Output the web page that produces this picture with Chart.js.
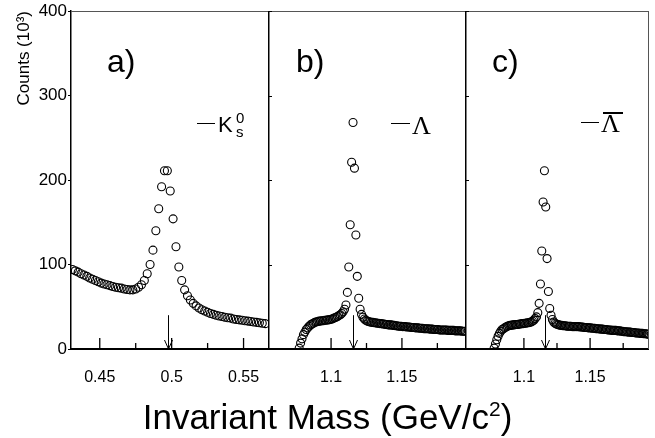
<!DOCTYPE html>
<html>
<head>
<meta charset="utf-8" />
<title>Invariant Mass - K0s, Lambda, anti-Lambda</title>
<script src="https://cdn.jsdelivr.net/npm/chart.js"></script>
<style>
    body { margin: 0; background: #fff; }
    #fig { position: relative; width: 655px; height: 438px; overflow: hidden;
           font-family: "Liberation Sans", Arial, sans-serif; color: #000; }
    #fig canvas { position: absolute; top: 0; }
    .lbl { position: absolute; white-space: nowrap; }
    .dash { position: absolute; height: 1px; background: #000; }
</style>
</head>
<body>
<div id="fig">
    <canvas id="panelA" width="268" height="438" style="left:0"></canvas>
    <canvas id="panelB" width="197" height="438" style="left:268px"></canvas>
    <canvas id="panelC" width="184" height="438" style="left:465px"></canvas>

    <div class="lbl" style="left:107px;top:45px;font-size:32px;line-height:32px">a)</div>
    <div class="lbl" style="left:296px;top:45px;font-size:32px;line-height:32px">b)</div>
    <div class="lbl" style="left:492px;top:45px;font-size:32px;line-height:32px">c)</div>

    <div class="dash" style="left:197px;top:123px;width:18px"></div>
    <div class="lbl" style="left:218px;top:114px;font-size:22px;line-height:22px">K</div>
    <div class="lbl" style="left:236px;top:110px;font-size:15px;line-height:15px">0</div>
    <div class="lbl" style="left:236px;top:124px;font-size:15px;line-height:15px">s</div>

    <div class="dash" style="left:391px;top:123px;width:19px"></div>
    <div class="lbl" style="left:412px;top:113px;font-family:'Liberation Serif',serif;font-size:26px;line-height:26px">Λ</div>

    <div class="dash" style="left:581px;top:122px;width:18px"></div>
    <div class="dash" style="left:603px;top:112px;width:20px;height:2px"></div>
    <div class="lbl" style="left:601px;top:111px;font-family:'Liberation Serif',serif;font-size:26px;line-height:26px">Λ</div>

    <div class="lbl" style="left:0;width:655px;text-align:center;top:399px;font-size:35px;line-height:35px">Invariant Mass (GeV/c<span style="font-size:21px;position:relative;top:-13px">2</span>)</div>
</div>

<script>
    // bins (GeV/c^2)
    const kshortStart = 0.431;
    const kshortBin = 0.002;
    const lambdaStart = 1.0775;
    const lambdaBin = 0.001;

    // counts in units of 10^3
    const kshortCounts = [
        94, 92.5, 91, 89, 87.5, 86, 84, 82.5, 81, 79.5,
        78, 77, 76, 75, 74, 73, 72.5, 72, 71, 70.5,
        70, 70, 71, 73, 76, 81, 89, 100, 117, 140,
        166, 192, 211, 211, 187, 154, 121, 97, 81, 70,
        63, 58, 54, 51, 48.5, 46.5, 45, 43.5, 42, 41,
        40, 39, 38.5, 37.5, 37, 36.5, 35.5, 35, 34.5, 34,
        33.5, 33, 32.5, 32, 31.5, 31, 30.5, 30
    ];
    const lambdaCounts = [
        1, 7, 12, 17, 20, 23, 25, 27, 28.5, 29.5,
        30.5, 31.5, 32, 32.5, 33, 33, 33.5, 33.5, 34, 34,
        34.5, 34.5, 35, 35.5, 36, 37, 37.5, 38.5, 39.5, 40.5,
        42, 44, 47, 52, 67, 97, 147, 221, 268, 214,
        135, 86, 60, 47, 41, 37.5, 35.5, 34, 33, 32.5,
        32, 31.5, 31.5, 31, 31, 30.5, 30.5, 30, 30, 29.5,
        29.5, 29, 29, 28.5, 28.5, 28.5, 28, 28, 27.5, 27.5,
        27, 27, 27, 26.5, 26.5, 26.5, 26, 26, 26, 25.5,
        25.5, 25.5, 25, 25, 25, 24.5, 24.5, 24.5, 24, 24,
        24, 24, 23.5, 23.5, 23.5, 23, 23, 23, 23, 22.5,
        22.5, 22.5, 22.5, 22.5, 22.5, 22, 22, 22, 22, 22,
        21.5, 21.5, 21.5, 21.5, 21.5, 21, 21, 21
    ];
    const antiLambdaCounts = [
        1, 6, 11, 15, 18.5, 21, 23, 24, 25, 26,
        27, 27.5, 28, 28, 28.5, 28.5, 29, 29, 29, 29.5,
        29.5, 30, 30, 30.5, 30.5, 31, 31, 31.5, 32, 33,
        34, 36, 38, 43, 54, 77, 116, 174, 211, 168,
        107, 68, 48, 40, 35, 32, 30.5, 29.5, 29, 28.5,
        28, 28, 27.5, 27.5, 27.5, 27, 27, 27, 27, 26.5,
        26.5, 26.5, 26.5, 26.5, 26.5, 26, 26, 26, 25.5, 25.5,
        25.5, 25, 25, 25, 24.5, 24.5, 24.5, 24, 24, 24,
        23.5, 23.5, 23.5, 23, 23, 23, 22.5, 22.5, 22.5, 22,
        22, 22, 22, 21.5, 21.5, 21.5, 21, 21, 20.5, 20.5,
        20.5, 20, 20, 20, 19.5, 19.5, 19.5, 19, 19, 19,
        18.5, 18.5, 18.5, 18, 18, 18, 17.5, 17.5
    ];

    // axes
    const countTicks = [0, 100, 200, 300, 400];
    const kshortTicks = [0.45, 0.5, 0.55];
    const kshortTickLabels = ['0.45', '0.5', '0.55'];
    const kshortMinor = [0.475, 0.525];
    const lambdaTicks = [1.1, 1.15];
    const lambdaTickLabels = ['1.1', '1.15'];
    const lambdaMinor = [1.125, 1.175];

    // nominal masses marked with arrows
    const kshortMass = 0.4976;
    const lambdaMass = 1.1157;
    const arrowTop = 40;

    Chart.defaults.font.family = '"Liberation Sans", Arial, sans-serif';
    Chart.defaults.color = '#000';

    function toPoints(start, bin, counts) {
        return counts.map((c, i) => ({ x: start + i * bin, y: c }));
    }

    // frame, inward x ticks and mass arrow
    const framePlugin = {
        id: 'frame',
        afterDatasetsDraw(chart, args, opts) {
            const { ctx, chartArea: a, scales: { x, y } } = chart;
            ctx.save();
            ctx.lineWidth = 1;
            ctx.strokeStyle = '#555';
            ctx.beginPath();
            ctx.moveTo(a.left, a.top + 0.5);
            ctx.lineTo(a.right, a.top + 0.5);
            if (opts.rightEdge) {
                ctx.moveTo(a.right - 0.5, a.top);
                ctx.lineTo(a.right - 0.5, a.bottom);
            }
            ctx.stroke();

            ctx.strokeStyle = '#000';
            if (opts.leftEdge) {
                ctx.lineWidth = 1.5;
                ctx.beginPath();
                ctx.moveTo(a.left + 0.75, a.top);
                ctx.lineTo(a.left + 0.75, a.bottom);
                ctx.stroke();
                ctx.lineWidth = 1;
                ctx.beginPath();
                countTicks.forEach(v => {
                    const py = Math.round(y.getPixelForValue(v)) + 0.5;
                    ctx.moveTo(a.left, py);
                    ctx.lineTo(a.left + 4, py);
                });
                ctx.stroke();
            }

            ctx.lineWidth = 1.3;
            ctx.beginPath();
            opts.majors.forEach(v => {
                const px = x.getPixelForValue(v);
                ctx.moveTo(px, a.bottom);
                ctx.lineTo(px, a.bottom - 11);
            });
            opts.minors.forEach(v => {
                const px = x.getPixelForValue(v);
                ctx.moveTo(px, a.bottom);
                ctx.lineTo(px, a.bottom - 6);
            });
            ctx.stroke();

            const ax = Math.round(x.getPixelForValue(opts.arrow)) + 0.5;
            const ay = y.getPixelForValue(arrowTop);
            ctx.lineWidth = 1;
            ctx.beginPath();
            ctx.moveTo(ax, ay);
            ctx.lineTo(ax, a.bottom);
            ctx.moveTo(ax - 4, a.bottom - 9);
            ctx.lineTo(ax, a.bottom);
            ctx.lineTo(ax + 4, a.bottom - 9);
            ctx.stroke();
            ctx.restore();
        }
    };

    function makePanel(id, points, xMin, xMax, ticks, tickLabels, minors, arrow, showY, rightEdge) {
        return new Chart(document.getElementById(id), {
            type: 'scatter',
            data: {
                datasets: [{
                    data: points,
                    pointStyle: 'circle',
                    pointRadius: 4,
                    pointBorderWidth: 1.1,
                    pointBorderColor: '#000',
                    pointBackgroundColor: 'rgba(0,0,0,0)',
                    showLine: false
                }]
            },
            options: {
                responsive: false,
                animation: false,
                devicePixelRatio: 1,
                layout: { autoPadding: false, padding: { top: 11, right: 0, bottom: 0, left: 0 } },
                plugins: {
                    legend: { display: false },
                    tooltip: { enabled: false },
                    frame: { majors: ticks, minors: minors, arrow: arrow, leftEdge: !showY, rightEdge: rightEdge }
                },
                scales: {
                    x: {
                        type: 'linear',
                        min: xMin,
                        max: xMax,
                        afterBuildTicks: s => { s.ticks = ticks.map(v => ({ value: v })); },
                        afterFit: s => { s.height = 89; s.paddingLeft = 0; s.paddingRight = 0; },
                        grid: { display: false, drawTicks: false },
                        border: { display: true, color: '#000', width: 2 },
                        ticks: {
                            autoSkip: false,
                            maxRotation: 0,
                            padding: 19,
                            font: { size: 16 },
                            callback: (v, i) => tickLabels[i]
                        }
                    },
                    y: {
                        display: showY,
                        min: 0,
                        max: 400,
                        afterBuildTicks: s => { s.ticks = countTicks.map(v => ({ value: v })); },
                        afterFit: s => { s.width = showY ? 71 : 0; s.paddingTop = 0; s.paddingBottom = 0; },
                        grid: { drawOnChartArea: false, drawTicks: true, tickLength: 3, color: '#000' },
                        border: { display: true, color: '#000', width: 1.5 },
                        ticks: { padding: 1, font: { size: 17 } },
                        title: {
                            display: true,
                            text: 'Counts (10³)',
                            align: 'end',
                            font: { size: 17 },
                            padding: { top: 14, bottom: 0 }
                        }
                    }
                }
            },
            plugins: [framePlugin]
        });
    }

    makePanel('panelA', toPoints(kshortStart, kshortBin, kshortCounts), 0.43, 0.567,
        kshortTicks, kshortTickLabels, kshortMinor, kshortMass, true, false);
    makePanel('panelB', toPoints(lambdaStart, lambdaBin, lambdaCounts), 1.0555, 1.1945,
        lambdaTicks, lambdaTickLabels, lambdaMinor, lambdaMass, false, false);
    makePanel('panelC', toPoints(lambdaStart, lambdaBin, antiLambdaCounts), 1.0555, 1.1945,
        lambdaTicks, lambdaTickLabels, lambdaMinor, lambdaMass, false, true);
</script>
</body>
</html>
